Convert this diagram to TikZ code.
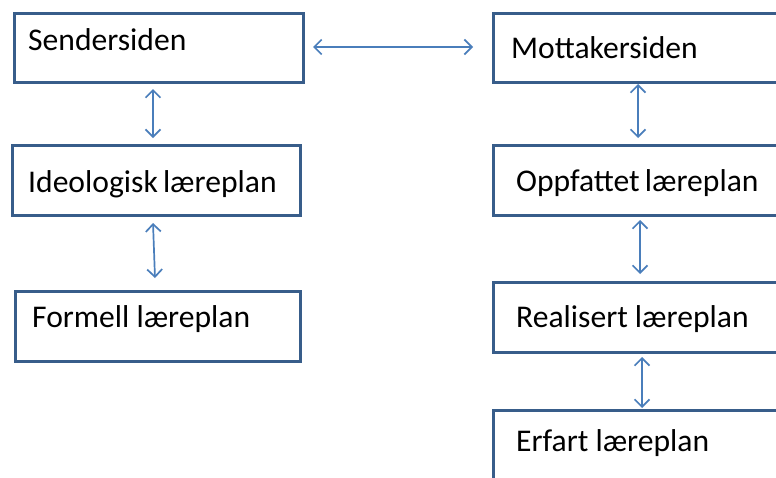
\documentclass[tikz,border=0pt]{standalone}
\usepackage{fontspec}
\setmainfont{Carlito}
\usetikzlibrary{arrows.meta}
\definecolor{boxline}{RGB}{56,93,138}
\definecolor{arrowline}{RGB}{74,126,187}
\tikzset{
  box/.style={draw=boxline, line width=3pt, fill=white, rectangle, anchor=north west, inner sep=0pt, outer sep=0pt},
  lbl/.style={anchor=base west, inner sep=0pt, font=\fontsize{31.6}{37}\selectfont},
  link/.style={draw=arrowline, line width=1.7pt, {Straight Barb[length=7.5pt,width=15pt]}-{Straight Barb[length=7.5pt,width=15pt]}}
}
\begin{document}
\begin{tikzpicture}[x=1pt,y=-1pt]
\useasboundingbox (0,0) rectangle (776,477);
\clip (0,0) rectangle (776,477);
\fill[white] (0,0) rectangle (776,477);
% left column
\node[box, minimum width=289pt, minimum height=69pt] (l1) at (14,13) {};
\node[box, minimum width=288pt, minimum height=70pt] (l2) at (12,145) {};
\node[box, minimum width=285pt, minimum height=70pt] (l3) at (15,291) {};
% right column
\node[box, minimum width=320pt, minimum height=69pt] (r1) at (493,13) {};
\node[box, minimum width=320pt, minimum height=70pt] (r2) at (493,145) {};
\node[box, minimum width=320pt, minimum height=70pt] (r3) at (493,282) {};
\node[box, minimum width=320pt, minimum height=100pt] (r4) at (493,410) {};
% labels
\node[lbl] (t1) at (28,50) {Sendersiden};
\node[lbl] (t2) at (28,192) {Ideologisk\hspace{-2pt} læreplan};
\node[lbl] (t3) at (32,327) {Formell læreplan};
\node[lbl] (t4) at (511,58) {Mottakersiden};
\node[lbl] (t5) at (516,191) {Oppfattet\hspace{-2pt} læreplan};
\node[lbl] (t6) at (516,327) {Realisert læreplan};
\node[lbl] (t7) at (516,451) {Erfart læreplan};
% arrow ends
\coordinate (h1) at (313,47);
\coordinate (h2) at (473,47);
\coordinate (a1) at (153,89);
\coordinate (a2) at (153,138);
\coordinate (b1) at (153,223);
\coordinate (b2) at (155,278);
\coordinate (c1) at (638,84);
\coordinate (c2) at (638,138);
\coordinate (d1) at (640,220);
\coordinate (d2) at (640,274);
\coordinate (e1) at (642,357);
\coordinate (e2) at (642,408);
\draw[link] (h1) -- (h2);
\draw[link] (a1) -- (a2);
\draw[link] (b1) -- (b2);
\draw[link] (c1) -- (c2);
\draw[link] (d1) -- (d2);
\draw[link] (e1) -- (e2);
\end{tikzpicture}
\end{document}
